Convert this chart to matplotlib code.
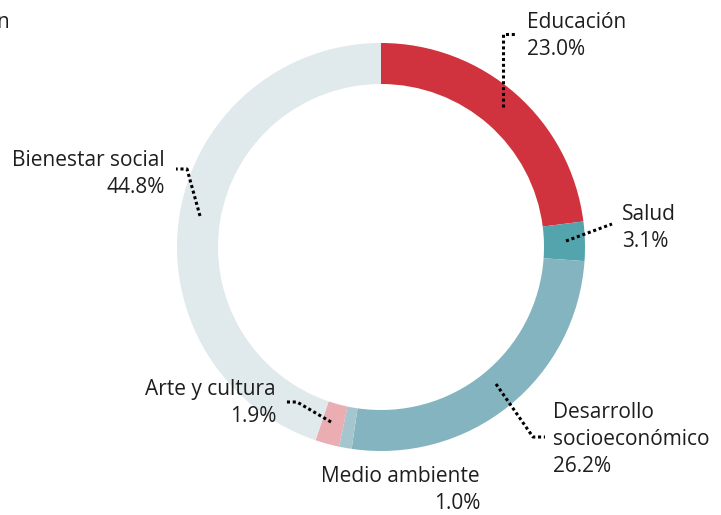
import matplotlib.pyplot as plt

# --- Data ---
categories = ['Educación', 'Salud', 'Desarrollo\nsocioeconómico', 'Medio ambiente',
              'Arte y cultura', 'Bienestar social']
shares = [23.0, 3.1, 26.2, 1.0, 1.9, 44.8]
colors = ['#d0333d', '#54a4ae', '#83b4bf', '#a6c6cf', '#eaadb1', '#e0e9eb']

W, H = 721, 515
plt.rcParams['font.family'] = ['Open Sans', 'DejaVu Sans']

fig = plt.figure(figsize=(W / 100, H / 100), dpi=100)
ax = fig.add_axes([0, 0, 1, 1])


def fy(y):
    # pixel row measured from the top -> data y
    return H - y


# donut, clockwise from 12 o'clock
cx, cy, R = 381, 247, 204
ax.pie(shares, colors=colors, startangle=90, counterclock=False,
       center=(cx, fy(cy)), radius=R, frame=True,
       wedgeprops=dict(width=41, linewidth=0))
ax.set_xlim(0, W)
ax.set_ylim(0, H)
ax.set_aspect('equal')
ax.axis('off')

# label text: (x, top y, alignment)
label_pos = [
    (527, 12, 'left'),
    (622, 204, 'left'),
    (553, 402, 'left'),
    (480, 466, 'right'),
    (276, 379, 'right'),
    (165, 150, 'right'),
]
for name, val, (x, y, ha) in zip(categories, shares, label_pos):
    ax.text(x, fy(y), f'{name}\n{val:.1f}%', ha=ha, va='top', ma=ha,
            fontsize=15, color='#1e1e1e', linespacing=1.36)

# dotted leader lines
leaders = [
    [(503, 107), (503, 34), (516, 34)],
    [(566, 241), (612, 224)],
    [(496, 384), (533, 437), (545, 437)],
    [(331, 422), (297, 402), (285, 402)],
    [(200, 216), (187, 169), (176, 169)],
]
for pts in leaders:
    xs = [p[0] for p in pts]
    ys = [fy(p[1]) for p in pts]
    ax.plot(xs, ys, color='black', linewidth=2.2, dashes=(1, 0.9),
            dash_capstyle='butt', solid_capstyle='butt')

# heading running in from the left edge
ax.text(9, fy(12), 'n', ha='right', va='top', fontsize=15, color='#1e1e1e')

fig.savefig('out.png', dpi=100)
